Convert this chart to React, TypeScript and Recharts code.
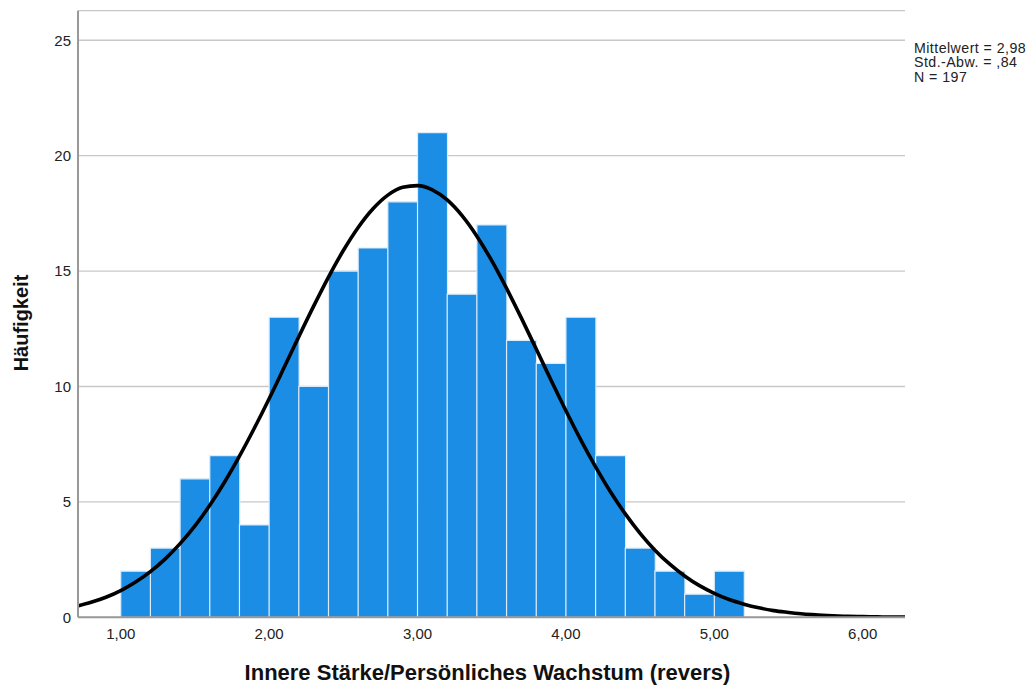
import React from "react";
import { ComposedChart, Bar, Line, XAxis, YAxis, CartesianGrid } from "recharts";

const binStarts = [1.0, 1.2, 1.4, 1.6, 1.8, 2.0, 2.2, 2.4, 2.6, 2.8, 3.0, 3.2, 3.4, 3.6, 3.8, 4.0, 4.2, 4.4, 4.6, 4.8, 5.0];
const binCounts = [2, 3, 6, 7, 4, 13, 10, 15, 16, 18, 21, 14, 17, 12, 11, 13, 7, 3, 2, 1, 2];
const binWidth = 0.2;

const curveX = [0.71, 0.8, 0.9, 1.0, 1.1, 1.2, 1.3, 1.4, 1.5, 1.6, 1.7, 1.8, 1.9, 2.0, 2.1, 2.2, 2.3, 2.4, 2.5, 2.6, 2.7, 2.8, 2.9, 3.0, 3.1, 3.2, 3.3, 3.4, 3.5, 3.6, 3.7, 3.8, 3.9, 4.0, 4.1, 4.2, 4.3, 4.4, 4.5, 4.6, 4.7, 4.8, 4.9, 5.0, 5.1, 5.2, 5.3, 5.4, 5.5, 5.6, 5.7, 5.8, 5.9, 6.0, 6.1, 6.2, 6.285];
const curveY = [0.49, 0.65, 0.87, 1.16, 1.53, 1.98, 2.53, 3.19, 3.96, 4.85, 5.86, 6.98, 8.19, 9.47, 10.81, 12.16, 13.48, 14.74, 15.89, 16.89, 17.7, 18.29, 18.63, 18.7, 18.52, 18.08, 17.4, 16.51, 15.45, 14.25, 12.96, 11.62, 10.27, 8.95, 7.69, 6.52, 5.44, 4.48, 3.64, 2.91, 2.3, 1.79, 1.37, 1.04, 0.77, 0.57, 0.41, 0.29, 0.21, 0.14, 0.1, 0.07, 0.04, 0.03, 0.02, 0.01, 0.01];

const xTicks = [1, 2, 3, 4, 5, 6];
const yTicks = [0, 5, 10, 15, 20, 25];
const xDomain = [0.712, 6.285];
const yDomain = [0, 26.28];

const statsLines = ["Mittelwert = 2,98", "Std.-Abw. = ,84", "N = 197"];
const xTitle = "Innere Stärke/Persönliches Wachstum (revers)";
const yTitle = "Häufigkeit";

const barData = binStarts.map((s, i) => ({ x: s + binWidth / 2, count: binCounts[i] }));
const curveData = curveX.map((x, i) => ({ x, y: curveY[i] }));

const FONT = "'Liberation Sans', Arial, sans-serif";

export default function App() {
  return (
    <div style={{ position: "absolute", left: 0, top: 0, width: 1033, height: 689, background: "#fff" }}>
      <ComposedChart
        width={1033}
        height={689}
        data={barData}
        margin={{ top: 10.7, right: 128, bottom: 41.7, left: 0 }}
        barCategoryGap={0}
        barGap={0}
      >
        <CartesianGrid horizontal={true} vertical={false} stroke="#c8c8c8" strokeWidth={1.3} />
        <XAxis
          dataKey="x"
          type="number"
          domain={xDomain}
          ticks={xTicks}
          allowDataOverflow
          tickFormatter={(v: number) => v.toFixed(2).replace(".", ",")}
          tickLine={false}
          tickMargin={5}
          height={30}
          axisLine={{ stroke: "#999", strokeWidth: 2 }}
          tick={{ fill: "#222", fontSize: 15, fontFamily: FONT }}
        />
        <XAxis xAxisId="curve" dataKey="x" type="number" domain={xDomain} allowDataOverflow hide />
        <YAxis
          type="number"
          domain={yDomain}
          ticks={yTicks}
          allowDataOverflow
          tickLine={false}
          tickMargin={1}
          width={78}
          axisLine={{ stroke: "#999", strokeWidth: 2 }}
          tick={{ fill: "#222", fontSize: 15, fontFamily: FONT }}
        />
        <Bar dataKey="count" fill="#1b8de5" stroke="#dcecfa" strokeWidth={1.2} isAnimationActive={false} />
        <Line
          xAxisId="curve"
          data={curveData}
          dataKey="y"
          type="monotone"
          stroke="#000"
          strokeWidth={3.6}
          dot={false}
          activeDot={false}
          isAnimationActive={false}
        />
      </ComposedChart>
      <svg width={1033} height={689} style={{ position: "absolute", left: 0, top: 0, pointerEvents: "none" }}>
        <text x={487.5} y={680} textAnchor="middle" fontFamily={FONT} fontWeight="bold" fontSize={22} fill="#111">
          {xTitle}
        </text>
        <text
          x={0}
          y={0}
          transform="translate(27.5 323) rotate(-90)"
          textAnchor="middle"
          fontFamily={FONT}
          fontWeight="bold"
          fontSize={20}
          fill="#111"
        >
          {yTitle}
        </text>
        {statsLines.map((s, i) => (
          <text key={s} x={914} y={52.5 + i * 14.8} fontFamily={FONT} fontSize={14.2} letterSpacing={0.45} fill="#222">
            {s}
          </text>
        ))}
      </svg>
    </div>
  );
}
